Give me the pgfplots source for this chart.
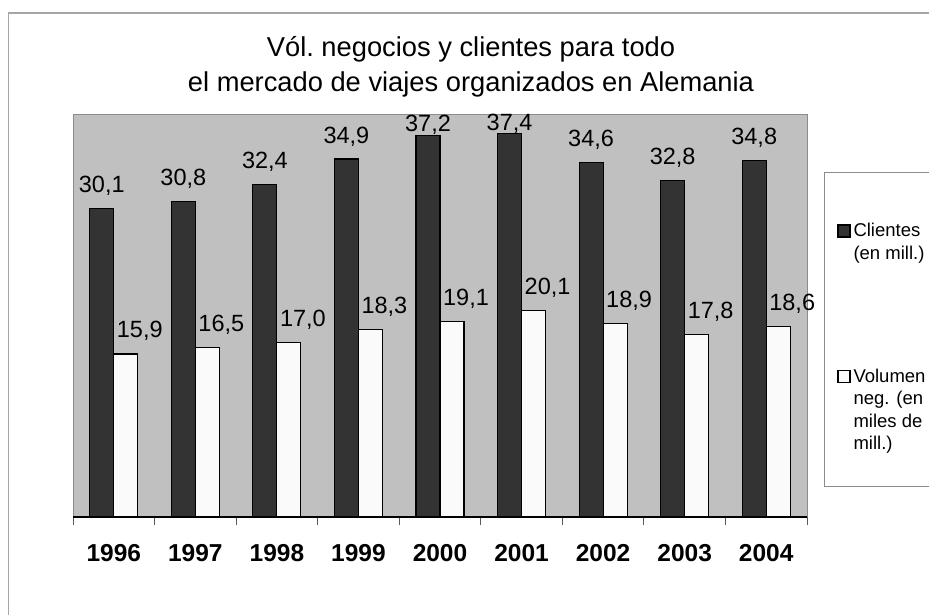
\documentclass[border=0pt]{standalone}
\usepackage{pgfplots}
\usepackage{pgfplotstable}
\pgfplotsset{compat=1.18}
\usepackage{fontspec}
\setmainfont{Liberation Sans}
\definecolor{bgray}{HTML}{C0C0C0}
\definecolor{dbar}{HTML}{333333}
\definecolor{wbar}{HTML}{FAFAFA}
\definecolor{frame}{HTML}{8C8C8C}
\pgfplotstableread{
x y dx dy
0 30.1 0 16
1 30.8 0 16
2 32.4 0 16
3 34.9 0 16
4 37.2 0 4
5 37.4 0 2.5
6 34.6 0 16
7 32.8 0 16
8 34.8 0 16
}\clientes
\pgfplotstableread{
x y dx dy
0 15.9 14 16
1 16.5 14 16
2 17.0 14 16
3 18.3 14 16
4 19.1 14 16
5 20.1 14 16
6 18.9 14 16
7 17.8 14 16
8 18.6 14 16
}\volumen
\begin{document}
\begin{tikzpicture}
\useasboundingbox (0pt,0pt) rectangle (929pt,615pt);
\fill[white] (0pt,0pt) rectangle (929pt,615pt);
\draw[gray!70, line width=1.5pt] (8.5pt,-5pt) -- (8.5pt,602pt) -- (935pt,602pt);
\node[anchor=base, font=\fontsize{27.3}{33}\selectfont, inner sep=0pt] at (471pt,558pt) {Vól.\ negocios y clientes para todo};
\node[anchor=base, font=\fontsize{27.3}{33}\selectfont, inner sep=0pt] at (471pt,523pt) {el mercado de viajes organizados en Alemania};
\draw[frame, line width=1pt] (824pt,442pt) rectangle (940pt,128pt);
\begin{axis}[
  at={(73pt,98pt)}, anchor=south west,
  scale only axis, width=734pt, height=402pt,
  xmin=-0.5, xmax=8.5, ymin=0, ymax=39.2,
  ytick=\empty,
  xtick={0,...,8},
  xticklabels={{\textbf{1996}},{\textbf{1997}},{\textbf{1998}},{\textbf{1999}},{\textbf{2000}},{\textbf{2001}},{\textbf{2002}},{\textbf{2003}},{\textbf{2004}}},
  major x tick style={draw=none},
  minor xtick={-0.5,0.5,1.5,2.5,3.5,4.5,5.5,6.5,7.5,8.5},
  minor tick length=8pt,
  minor x tick style={draw=black!65, line width=1pt},
  tick align=outside,
  xtick pos=bottom,
  xticklabel style={font=\bfseries\fontsize{24.5}{28}\selectfont, anchor=base, yshift=-40pt, inner sep=0pt},
  axis line style={frame, line width=1pt},
  axis background/.style={fill=bgray},
  clip=false,
  /pgf/number format/.cd, fixed, fixed zerofill, precision=1, use comma, assume math mode=true,
  /pgfplots/.cd,
  visualization depends on={\thisrow{dx} \as \ddx},
  visualization depends on={\thisrow{dy} \as \ddy},
  nodes near coords,
  every node near coord/.append style={font=\fontsize{23.5}{28}\selectfont, anchor=base, inner sep=0pt, yshift=\ddy pt},
  legend style={draw=none, fill=none, inner sep=0pt, anchor=north west, at={(1.0409,0.7363)}, row sep=104pt, column sep=1pt, font=\fontsize{18.5}{22.5}\selectfont, cells={align=left}},
  legend cell align=left,
]
\addplot[ybar, bar width=24pt, bar shift=-12pt, fill=dbar, draw=black, line width=1.2pt,
  every node near coord/.append style={xshift=-12pt+\ddx pt},
  legend image code/.code={\draw[fill=dbar, draw=black, line width=1.3pt] (0pt,5pt) rectangle (12pt,17pt);}]
  table[x=x, y=y] {\clientes};
\addlegendentry{Clientes\\(en mill.)}
\addplot[ybar, bar width=24pt, bar shift=12pt, fill=wbar, draw=black, line width=1.2pt,
  every node near coord/.append style={xshift=12pt+\ddx pt},
  legend image code/.code={\draw[fill=wbar, draw=black, line width=1.3pt] (0pt,27pt) rectangle (12pt,39pt);}]
  table[x=x, y=y] {\volumen};
\addlegendentry{Volumen\\neg. (en\\miles de\\mill.)}
\draw[black, line width=1.3pt] (rel axis cs:0,0) -- (rel axis cs:1,0);
\end{axis}
\end{tikzpicture}
\end{document}
